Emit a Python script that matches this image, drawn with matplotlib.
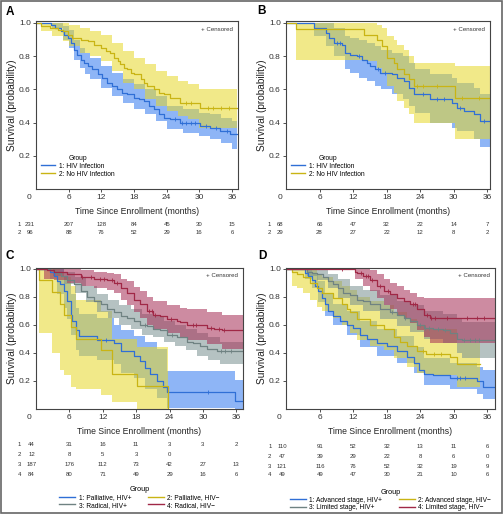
import numpy as np
import matplotlib
matplotlib.use('Agg')
import matplotlib.pyplot as plt
from matplotlib import font_manager
from matplotlib.lines import Line2D
from matplotlib.patches import Rectangle
from matplotlib.transforms import blended_transform_factory

# ---------------- fonts ----------------
names = {f.name for f in font_manager.fontManager.ttflist}
HAVE_NARROW = 'Liberation Sans Narrow' in names
MAIN_FONT = 'Liberation Sans Narrow' if HAVE_NARROW else 'Liberation Sans'
plt.rcParams['font.family'] = [MAIN_FONT, 'DejaVu Sans']

# ---------------- data ----------------
months = [0, 6, 12, 18, 24, 30, 36]

# Panel A
a1_t = [0, 2.7, 3.5, 4.5, 5.2, 5.8, 6.4, 7.0, 7.6, 8.2, 8.8, 9.5, 10.2, 11.3, 12.2, 13.1, 14.0,
        14.9, 15.8, 16.8, 18.0, 19.0, 19.8, 20.8, 21.6, 22.5, 23.5, 24.7, 26.5, 30.2, 32.0, 33.8, 35.7]
a1_s = [1.0, 0.99, 0.97, 0.95, 0.93, 0.91, 0.88, 0.84, 0.81, 0.78, 0.76, 0.74, 0.72, 0.69, 0.67, 0.64, 0.62,
        0.60, 0.58, 0.57, 0.55, 0.54, 0.53, 0.50, 0.48, 0.45, 0.43, 0.42, 0.40, 0.38, 0.37, 0.35, 0.33]
a1_ct = [0, 3, 5, 6, 7, 8, 9, 10, 12, 14, 16, 18, 20, 22, 24, 27, 30, 32, 34, 36]
a1_lo = [1.0, 0.97, 0.90, 0.85, 0.78, 0.73, 0.69, 0.66, 0.61, 0.56, 0.52, 0.48, 0.45, 0.41, 0.36, 0.34, 0.32, 0.30, 0.28, 0.24]
a1_hi = [1.0, 1.0, 0.98, 0.96, 0.90, 0.85, 0.82, 0.79, 0.74, 0.70, 0.66, 0.63, 0.60, 0.56, 0.50, 0.48, 0.46, 0.45, 0.43, 0.41]
a1_cens = [25.5, 26.8, 27.6, 28.4, 29.2, 31.2, 33.0, 35.0]

a2_t = [0, 1.0, 2.5, 4.0, 5.0, 5.8, 6.7, 8.2, 9.5, 10.7, 11.9, 12.8, 13.6, 14.3, 15.0, 15.5, 16.2,
        16.8, 17.5, 18.0, 19.2, 19.8, 20.4, 21.6, 22.5, 23.5, 24.7, 26.5, 30.2]
a2_s = [1.0, 0.98, 0.97, 0.96, 0.95, 0.93, 0.91, 0.90, 0.89, 0.87, 0.85, 0.83, 0.82, 0.79, 0.77, 0.75, 0.73,
        0.72, 0.70, 0.69, 0.66, 0.64, 0.62, 0.60, 0.58, 0.57, 0.55, 0.52, 0.49]
a2_ct = [0, 1, 3, 5, 6, 8, 10, 12, 14, 16, 18, 20, 22, 24, 26, 28, 30]
a2_lo = [1.0, 0.95, 0.92, 0.89, 0.86, 0.82, 0.80, 0.77, 0.71, 0.64, 0.60, 0.54, 0.50, 0.47, 0.44, 0.42, 0.37]
a2_hi = [1.0, 1.0, 1.0, 1.0, 0.99, 0.97, 0.95, 0.93, 0.88, 0.83, 0.79, 0.75, 0.71, 0.68, 0.65, 0.63, 0.60]
a2_cens = [27.5, 28.5, 31.5, 32.5, 34.0, 35.5]

# Panel B
b1_t = [0, 5.0, 7.1, 7.7, 8.6, 10.0, 10.6, 11.5, 12.7, 13.6, 14.5, 15.1, 16.0, 16.9, 19.0, 19.9,
        21.1, 22.0, 22.9, 25.8, 29.7, 30.6, 31.8, 33.6, 34.8]
b1_s = [1.0, 0.97, 0.94, 0.91, 0.88, 0.87, 0.82, 0.81, 0.80, 0.78, 0.76, 0.74, 0.72, 0.70, 0.69, 0.67,
        0.65, 0.61, 0.57, 0.54, 0.52, 0.49, 0.47, 0.45, 0.41]
b1_ct = [0, 5.0, 7.1, 8.6, 10.6, 11.5, 13.0, 14.5, 16.0, 17.0, 19.0, 21.0, 22.0, 23.0, 25.8, 29.7, 30.6, 33.6, 34.8]
b1_lo = [1.0, 0.92, 0.86, 0.80, 0.72, 0.70, 0.67, 0.65, 0.62, 0.60, 0.57, 0.54, 0.50, 0.46, 0.40, 0.37, 0.35, 0.30, 0.25]
b1_hi = [1.0, 1.0, 1.0, 0.97, 0.92, 0.91, 0.90, 0.88, 0.86, 0.84, 0.82, 0.80, 0.76, 0.72, 0.69, 0.67, 0.64, 0.61, 0.57]
b1_cens = [9.2, 9.7, 13.0, 16.5, 17.8, 24.5, 27.0, 28.2, 31.2, 35.5]

b2_t = [0, 1.7, 14.0, 16.3, 17.2, 18.1, 19.3, 19.9, 21.1, 22.0, 22.9, 30.3]
b2_s = [1.0, 0.966, 0.93, 0.90, 0.86, 0.79, 0.76, 0.72, 0.69, 0.66, 0.62, 0.55]
b2_ct = [0, 1.7, 14.0, 16.3, 17.2, 18.1, 19.3, 19.9, 21.1, 22.0, 22.9, 30.3]
b2_lo = [1.0, 0.78, 0.77, 0.73, 0.69, 0.62, 0.58, 0.53, 0.49, 0.45, 0.40, 0.30]
b2_hi = [1.0, 1.0, 1.0, 0.99, 0.97, 0.92, 0.90, 0.87, 0.84, 0.80, 0.76, 0.74]
b2_cens = [23.5, 24.5, 27.0, 31.5, 34.5]

# Panel C
c1_t = [0, 2.6, 3.2, 3.8, 4.4, 5.0, 5.6, 6.2, 6.5, 7.1, 7.7, 11.0, 14.0, 15.2, 17.6, 18.7, 19.6,
        20.5, 21.7, 22.9, 23.5, 35.8]
c1_s = [1.0, 0.98, 0.95, 0.91, 0.89, 0.84, 0.77, 0.67, 0.63, 0.56, 0.52, 0.49, 0.47, 0.41, 0.38, 0.34, 0.29,
        0.25, 0.20, 0.16, 0.12, 0.06]
c1_ct = [0, 2.6, 3.8, 5.0, 5.6, 6.2, 7.1, 7.7, 11.0, 14.0, 15.2, 17.6, 19.6, 21.7, 23.5, 35.8]
c1_lo = [1.0, 0.93, 0.82, 0.72, 0.64, 0.53, 0.42, 0.38, 0.35, 0.32, 0.26, 0.22, 0.14, 0.08, 0.01, 0.0]
c1_hi = [1.0, 1.0, 1.0, 0.95, 0.90, 0.82, 0.72, 0.68, 0.65, 0.60, 0.56, 0.52, 0.48, 0.43, 0.27, 0.21]
c1_cens = [12.5, 31.0]

c2_t = [0, 0.6, 2.9, 4.4, 5.0, 6.2, 7.1, 11.6, 13.7, 18.1, 23.8]
c2_s = [1.0, 0.917, 0.833, 0.75, 0.667, 0.583, 0.50, 0.417, 0.25, 0.167, 0.0]
c2_ct = [0, 0.6, 2.9, 4.4, 5.0, 6.2, 7.1, 11.6, 13.7, 18.1, 23.8]
c2_lo = [1.0, 0.54, 0.40, 0.28, 0.24, 0.16, 0.14, 0.10, 0.05, 0.0, 0.0]
c2_hi = [1.0, 1.0, 1.0, 0.98, 0.94, 0.88, 0.78, 0.70, 0.50, 0.44, 0.0]
c2_cens = []

c3_t = [0, 2.6, 3.5, 4.5, 5.6, 6.8, 8.0, 9.2, 10.4, 11.6, 12.8, 14.0, 15.2, 16.4, 17.6, 18.7, 19.9,
        21.1, 22.3, 23.5, 25.3, 27.1, 28.3, 29.5, 30.7, 32.5]
c3_s = [1.0, 0.99, 0.97, 0.95, 0.92, 0.89, 0.84, 0.80, 0.77, 0.75, 0.71, 0.69, 0.66, 0.65, 0.63, 0.60, 0.59,
        0.57, 0.56, 0.53, 0.51, 0.48, 0.47, 0.45, 0.43, 0.41]
c3_ct = [0, 3, 5, 7, 9, 11, 13, 15, 17, 19, 21, 23, 25, 27, 29, 31, 33]
c3_lo = [1.0, 0.95, 0.89, 0.83, 0.76, 0.69, 0.65, 0.60, 0.57, 0.53, 0.51, 0.48, 0.45, 0.42, 0.38, 0.35, 0.32]
c3_hi = [1.0, 1.0, 0.98, 0.94, 0.88, 0.82, 0.78, 0.74, 0.71, 0.68, 0.66, 0.63, 0.60, 0.57, 0.54, 0.51, 0.48]
c3_cens = [19.5, 24.5, 33.2, 34.0, 35.0]

c4_t = [0, 2.0, 3.2, 5.6, 8.0, 10.4, 12.8, 14.0, 15.2, 16.4, 17.6, 18.7, 19.9, 21.1, 22.3, 23.5,
        25.3, 25.9, 27.1, 30.7, 31.9, 33.5]
c4_s = [1.0, 0.99, 0.98, 0.96, 0.94, 0.93, 0.92, 0.90, 0.86, 0.83, 0.78, 0.75, 0.70, 0.67, 0.66, 0.64,
        0.63, 0.62, 0.60, 0.58, 0.57, 0.56]
c4_ct = [0, 1.4, 3.2, 5.6, 8.0, 10.4, 12.8, 14.0, 15.2, 16.4, 17.6, 18.7, 19.9, 21.1, 23.5, 25.9, 27.1, 30.7, 33.5]
c4_lo = [1.0, 0.93, 0.92, 0.90, 0.88, 0.86, 0.85, 0.83, 0.78, 0.74, 0.69, 0.65, 0.60, 0.57, 0.54, 0.51, 0.49, 0.46, 0.43]
c4_hi = [1.0, 1.0, 1.0, 1.0, 0.99, 0.98, 0.97, 0.96, 0.93, 0.91, 0.87, 0.84, 0.80, 0.77, 0.74, 0.72, 0.71, 0.69, 0.67]
c4_cens = [8.2, 9.8, 11.5, 12.2, 13.6, 14.6, 20.3, 20.8, 21.3, 24.2, 28.2, 28.8, 31.5, 32.8, 33.8]

# Panel D
d1_t = [0, 3.3, 3.9, 4.5, 5.1, 5.7, 6.3, 6.9, 7.5, 8.4, 9.6, 10.8, 12.0, 13.2, 14.4, 16.2, 18.0,
        19.8, 21.6, 22.8, 23.7, 24.6, 26.3, 29.3, 34.1, 35.3]
d1_s = [1.0, 0.97, 0.95, 0.92, 0.88, 0.84, 0.79, 0.75, 0.70, 0.66, 0.63, 0.60, 0.58, 0.53, 0.50, 0.47, 0.45,
        0.41, 0.37, 0.33, 0.28, 0.25, 0.24, 0.22, 0.20, 0.16]
d1_ct = [0, 3.3, 4.5, 5.7, 6.9, 8.4, 10.8, 13.2, 16.2, 19.8, 22.8, 24.6, 29.3, 34.1, 35.3]
d1_lo = [1.0, 0.93, 0.86, 0.76, 0.66, 0.60, 0.53, 0.44, 0.38, 0.33, 0.26, 0.17, 0.14, 0.11, 0.07]
d1_hi = [1.0, 1.0, 0.97, 0.91, 0.83, 0.75, 0.70, 0.63, 0.57, 0.52, 0.44, 0.36, 0.33, 0.30, 0.28]
d1_cens = [30.5, 31.2, 32.0]

d2_t = [0, 0.9, 1.8, 3.0, 4.2, 5.4, 6.3, 8.4, 9.9, 10.8, 11.4, 12.6, 15.0, 17.4, 19.2, 20.4, 21.6,
        23.4, 25.1, 29.3, 30.5]
d2_s = [1.0, 0.98, 0.96, 0.94, 0.90, 0.86, 0.83, 0.79, 0.75, 0.71, 0.69, 0.64, 0.60, 0.57, 0.51, 0.48, 0.45,
        0.41, 0.39, 0.37, 0.32]
d2_ct = [0, 0.9, 1.8, 3.0, 4.2, 5.4, 6.3, 8.4, 9.9, 11.4, 12.6, 15.0, 17.4, 19.2, 21.6, 23.4, 25.1, 30.5]
d2_lo = [1.0, 0.88, 0.86, 0.83, 0.78, 0.73, 0.70, 0.65, 0.60, 0.54, 0.49, 0.45, 0.42, 0.36, 0.30, 0.26, 0.24, 0.16]
d2_hi = [1.0, 1.0, 1.0, 1.0, 0.99, 0.96, 0.94, 0.91, 0.88, 0.85, 0.80, 0.77, 0.74, 0.69, 0.64, 0.60, 0.57, 0.47]
d2_cens = [24.5, 26.5, 27.8]

d3_t = [0, 3.6, 4.5, 5.4, 6.6, 7.5, 8.4, 9.3, 10.2, 11.4, 12.6, 13.8, 15.0, 16.8, 18.6, 19.8, 21.0,
        22.2, 23.4, 24.6, 26.3, 28.1, 29.3, 30.5, 31.4]
d3_s = [1.0, 0.98, 0.97, 0.96, 0.94, 0.91, 0.89, 0.86, 0.83, 0.81, 0.78, 0.77, 0.75, 0.71, 0.69, 0.67, 0.65,
        0.63, 0.60, 0.58, 0.57, 0.56, 0.54, 0.50, 0.49]
d3_ct = [0, 3.6, 5.4, 7.5, 9.3, 11.4, 13.8, 16.8, 19.8, 22.2, 24.6, 28.1, 30.5, 31.4]
d3_lo = [1.0, 0.95, 0.92, 0.86, 0.79, 0.74, 0.70, 0.64, 0.59, 0.55, 0.50, 0.47, 0.40, 0.36]
d3_hi = [1.0, 1.0, 1.0, 0.96, 0.93, 0.88, 0.85, 0.81, 0.77, 0.74, 0.70, 0.68, 0.64, 0.62]
d3_cens = [19.0, 21.2, 24.0, 24.8, 25.5, 27.2, 28.5, 31.8, 33.0, 33.8, 34.5]

d4_t = [0, 12.3, 12.6, 13.8, 15.0, 16.2, 17.4, 18.6, 19.8, 21.0, 22.2, 23.4, 24.6, 25.8]
d4_s = [1.0, 0.98, 0.97, 0.95, 0.92, 0.88, 0.84, 0.82, 0.79, 0.77, 0.75, 0.71, 0.67, 0.65]
d4_ct = [0, 12.3, 13.8, 15.0, 16.2, 17.4, 18.6, 19.8, 21.0, 22.2, 23.4, 24.6, 25.8]
d4_lo = [1.0, 0.93, 0.88, 0.84, 0.79, 0.74, 0.71, 0.67, 0.64, 0.61, 0.56, 0.51, 0.47]
d4_hi = [1.0, 1.0, 1.0, 0.99, 0.96, 0.93, 0.90, 0.88, 0.85, 0.83, 0.80, 0.79, 0.79]
d4_cens = [10.0, 13.3, 14.2, 14.6, 15.4, 16.8, 18.2, 22.6, 23.0, 25.2, 26.0, 26.6, 28.8, 32.4, 34.2, 35.4]

# numbers at risk
risk_a = [[231, 207, 128, 84, 45, 30, 15], [96, 88, 76, 52, 29, 16, 6]]
risk_b = [[68, 66, 47, 32, 22, 14, 7], [29, 28, 27, 22, 12, 8, 2]]
risk_c = [[44, 31, 16, 11, 3, 3, 2], [12, 8, 5, 3, 0], [187, 176, 112, 73, 42, 27, 13], [84, 80, 71, 49, 29, 16, 6]]
risk_d = [[110, 91, 52, 32, 13, 11, 6], [47, 39, 29, 22, 8, 6, 0], [121, 116, 76, 52, 32, 19, 9], [49, 49, 47, 30, 21, 10, 6]]

labels_ab = ['1: HIV Infection', '2: No HIV Infection']
labels_c = ['1: Palliative, HIV+', '2: Palliative, HIV\u2212', '3: Radical, HIV+', '4: Radical, HIV\u2212']
labels_d = ['1: Advanced stage, HIV+', '2: Advanced stage, HIV\u2212', '3: Limited stage, HIV+', '4: Limited stage, HIV\u2212']

# colours (line, fill)
BLUE = ('#2f6fd6', '#3278f0')
YELLOW = ('#c9b414', '#e6d728')
GRAY = ('#6f8282', '#789191')
RED = ('#a02846', '#a52d55')

# ---------------- figure ----------------
W, H = 503, 516
fig = plt.figure(figsize=(W / 100, H / 100), dpi=100)
fig.patches.append(Rectangle((0.5 / W, 1 - 513 / H), 501 / W, 512.5 / H, transform=fig.transFigure,
                             fill=False, edgecolor='#666666', lw=1.2))

TICK_FS = 6.6 if HAVE_NARROW else 6.0
XLAB_FS = 7.4 if HAVE_NARROW else 6.2
RISK_FS = 4.8 if HAVE_NARROW else 4.3
LEG_FS = 5.6 if HAVE_NARROW else 4.8


def add_ax(l, t, r, b):
    return fig.add_axes([l / W, 1 - b / H, (r - l) / W, (b - t) / H])


def style_ax(ax, xmax, ytop, zero_x):
    ax.set_xlim(0, xmax)
    ax.set_ylim(0, ytop)
    ax.set_xticks(months[1:])
    ax.set_yticks([0.2, 0.4, 0.6, 0.8, 1.0])
    ax.set_yticklabels(['0.2', '0.4', '0.6', '0.8', '1.0'])
    ax.tick_params(labelsize=TICK_FS, length=2.2, width=0.6, pad=1.6, colors='#333333')
    for sp in ax.spines.values():
        sp.set_color('#444444')
        sp.set_linewidth(0.8)
    # the 0 label sits left of the axis corner
    ax.annotate('0', xy=(zero_x, 0), xycoords=('data', 'axes fraction'), xytext=(0, -3.8),
                textcoords='offset points', ha='center', va='top', fontsize=TICK_FS, color='#333333')
    ax.text(0.975, 0.965, '+ Censored', transform=ax.transAxes, ha='right', va='top',
            fontsize=LEG_FS - 0.4, color='#333333')


def draw_km(ax, groups):
    for t, s, ct, lo, hi, cens, end, col in groups:
        ax.fill_between(list(ct) + [end], list(lo) + [lo[-1]], list(hi) + [hi[-1]], step='post',
                        color=col[1], alpha=0.55, lw=0)
    for t, s, ct, lo, hi, cens, end, col in groups:
        ax.step(list(t) + [end], list(s) + [s[-1]], where='post', color=col[0], lw=0.9)
        if len(cens):
            idx = np.searchsorted(t, cens, side='right') - 1
            ax.plot(cens, np.array(s)[idx], ls='none', marker='|', ms=3.2, mew=0.6, color=col[0])


def risk_table(ax, rows, ys, zero_x):
    tr = blended_transform_factory(ax.transData, fig.transFigure)
    xs = [zero_x] + months[1:]
    for i, (row, y) in enumerate(zip(rows, ys)):
        ax.text(-3.0, 1 - y / H, str(i + 1), transform=tr, ha='center', va='center',
                fontsize=RISK_FS, color='#333333', clip_on=False)
        for x, v in zip(xs, row):
            ax.text(x, 1 - y / H, str(v), transform=tr, ha='center', va='center',
                    fontsize=RISK_FS, color='#333333', clip_on=False)


def labels(ax, bottom_px, left_px, xlab_y, ylab_x):
    pos = ax.get_position()
    h_px = pos.height * H
    w_px = pos.width * W
    ax.set_xlabel('Time Since Enrollment (months)', fontsize=XLAB_FS, color='#222222')
    ax.xaxis.set_label_coords(0.5, -(xlab_y - bottom_px) / h_px)
    ax.xaxis.label.set_va('center')
    ax.set_ylabel('Survival (probability)', fontsize=7.3, color='#222222', family='Liberation Sans')
    ax.yaxis.set_label_coords(-(left_px - ylab_x) / w_px, 0.5)
    ax.yaxis.label.set_va('center')


# ---- Panel A ----
axA = add_ax(36, 21, 238, 189)
draw_km(axA, [(a1_t, a1_s, a1_ct, a1_lo, a1_hi, a1_cens, 37.0, BLUE),
              (a2_t, a2_s, a2_ct, a2_lo, a2_hi, a2_cens, 37.0, YELLOW)])
style_ax(axA, 37.1, 1.012, -1.3)
labels(axA, 189, 36, 212, 12)
risk_table(axA, risk_a, [224, 233], -1.1)
axA.legend([Line2D([], [], color=BLUE[0], lw=1), Line2D([], [], color=YELLOW[0], lw=1)], labels_ab,
           title='Group', title_fontsize=LEG_FS, fontsize=LEG_FS, frameon=False, loc='lower left',
           bbox_to_anchor=(0.0, 0.04), handlelength=2.2, handletextpad=0.5, borderpad=0.2, labelspacing=0.15)

# ---- Panel B ----
axB = add_ax(286, 21, 490, 189)
draw_km(axB, [(b1_t, b1_s, b1_ct, b1_lo, b1_hi, b1_cens, 36.6, BLUE),
              (b2_t, b2_s, b2_ct, b2_lo, b2_hi, b2_cens, 36.6, YELLOW)])
style_ax(axB, 36.5, 1.012, -1.1)
labels(axB, 189, 286, 212, 262)
risk_table(axB, risk_b, [224, 233], -1.1)
axB.legend([Line2D([], [], color=BLUE[0], lw=1), Line2D([], [], color=YELLOW[0], lw=1)], labels_ab,
           title='Group', title_fontsize=LEG_FS, fontsize=LEG_FS, frameon=False, loc='lower left',
           bbox_to_anchor=(0.0, 0.04), handlelength=2.2, handletextpad=0.5, borderpad=0.2, labelspacing=0.15)

# ---- Panel C ----
axC = add_ax(36, 268, 243, 409)
draw_km(axC, [(c1_t, c1_s, c1_ct, c1_lo, c1_hi, c1_cens, 37.2, BLUE),
              (c2_t, c2_s, c2_ct, c2_lo, c2_hi, c2_cens, 23.8, YELLOW),
              (c3_t, c3_s, c3_ct, c3_lo, c3_hi, c3_cens, 37.2, GRAY),
              (c4_t, c4_s, c4_ct, c4_lo, c4_hi, c4_cens, 37.2, RED)])
style_ax(axC, 37.2, 1.005, -1.3)
labels(axC, 409, 36, 431, 12)
risk_table(axC, risk_c, [444, 454, 465, 475], -0.8)
hC = [Line2D([], [], color=c[0], lw=1) for c in (BLUE, YELLOW, GRAY, RED)]
axC.legend([hC[0], hC[2], hC[1], hC[3]], [labels_c[0], labels_c[2], labels_c[1], labels_c[3]], ncol=2,
           title='Group', title_fontsize=LEG_FS + 0.4, fontsize=LEG_FS, frameon=False, loc='upper center',
           bbox_to_anchor=(0.5, -0.52), handlelength=2.4, handletextpad=0.5, columnspacing=2.5,
           borderpad=0.1, labelspacing=0.1)

# ---- Panel D ----
axD = add_ax(286, 268, 495, 409)
draw_km(axD, [(d1_t, d1_s, d1_ct, d1_lo, d1_hi, d1_cens, 37.4, BLUE),
              (d2_t, d2_s, d2_ct, d2_lo, d2_hi, d2_cens, 34.7, YELLOW),
              (d3_t, d3_s, d3_ct, d3_lo, d3_hi, d3_cens, 37.4, GRAY),
              (d4_t, d4_s, d4_ct, d4_lo, d4_hi, d4_cens, 37.4, RED)])
style_ax(axD, 37.4, 1.005, -1.3)
axD.set_xlim(-0.1, 37.4)
labels(axD, 409, 286, 431, 262)
risk_table(axD, risk_d, [446, 456, 466, 475], -0.8)
hD = [Line2D([], [], color=c[0], lw=1) for c in (BLUE, YELLOW, GRAY, RED)]
axD.legend([hD[0], hD[2], hD[1], hD[3]], [labels_d[0], labels_d[2], labels_d[1], labels_d[3]], ncol=2,
           title='Group', title_fontsize=LEG_FS + 0.4, fontsize=LEG_FS, frameon=False, loc='upper center',
           bbox_to_anchor=(0.5, -0.54), handlelength=2.4, handletextpad=0.5, columnspacing=2.5,
           borderpad=0.1, labelspacing=0.1)

# panel letters
for letter, x, y in [('A', 10, 12), ('B', 262, 11), ('C', 10, 256), ('D', 262, 256)]:
    fig.text(x / W, 1 - y / H, letter, fontsize=8.5, fontweight='bold', family='Liberation Sans',
             ha='center', va='center')

fig.savefig('out.png', dpi=100)
